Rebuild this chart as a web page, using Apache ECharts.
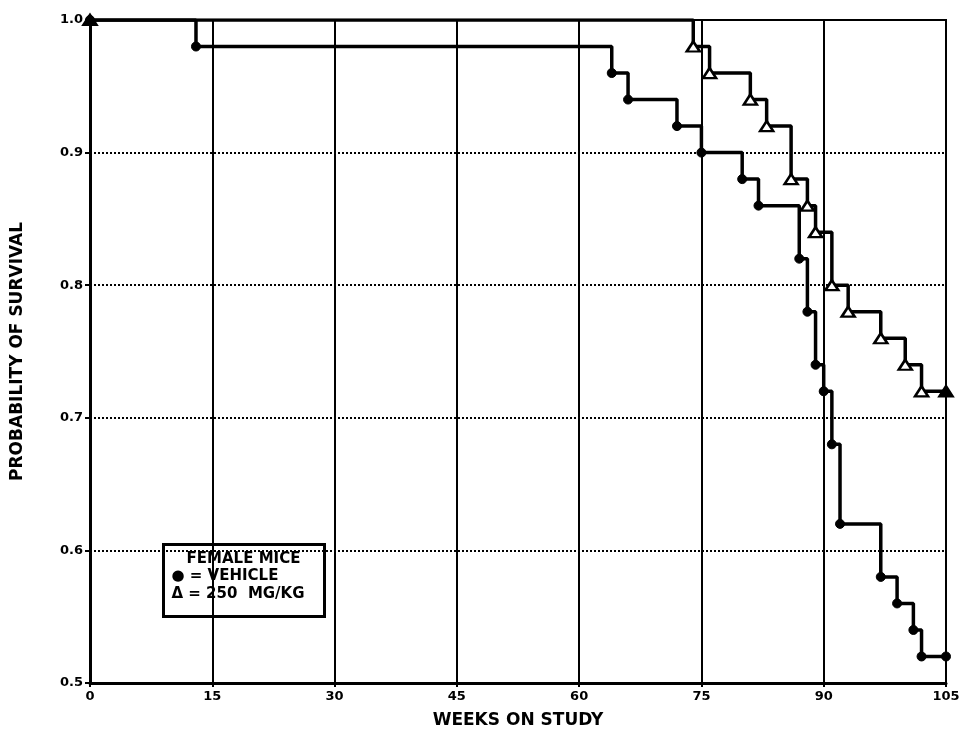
<!DOCTYPE html>
<html>
<head>
<meta charset="utf-8">
<script src="https://cdn.jsdelivr.net/npm/echarts@6/dist/echarts.min.js"></script>
<style>
  html, body { margin: 0; padding: 0; background: #fff; }
  #main { width: 964px; height: 738px; }
</style>
</head>
<body>
<div id="main"></div>
<script>
// Kaplan-Meier survival, female mice
var weekTicks = [0, 15, 30, 45, 60, 75, 90, 105];

var vehicleWeeks = [0, 13, 64, 66, 72, 75, 80, 82, 87, 88, 89, 90, 91, 92, 97, 99, 101, 102, 105];
var vehicleSurv  = [1.0, 0.98, 0.96, 0.94, 0.92, 0.90, 0.88, 0.86, 0.82, 0.78, 0.74, 0.72, 0.68, 0.62, 0.58, 0.56, 0.54, 0.52, 0.52];

var doseWeeks = [0, 74, 76, 81, 83, 86, 88, 89, 91, 93, 97, 100, 102, 105];
var doseSurv  = [1.0, 0.98, 0.96, 0.94, 0.92, 0.88, 0.86, 0.84, 0.80, 0.78, 0.76, 0.74, 0.72, 0.72];

var pairs = function (xs, ys) {
    return xs.map(function (x, i) { return [x, ys[i]]; });
};

// the first and last triangles print solid in the original
var doseData = pairs(doseWeeks, doseSurv).map(function (p, i, arr) {
    if (i === 0 || i === arr.length - 1) {
        return { value: p, itemStyle: { color: '#000' } };
    }
    return p;
});

var font = 'DejaVu Sans';

var myChart = echarts.init(document.getElementById('main'));
myChart.setOption({
    animation: false,
    backgroundColor: '#fff',
    grid: {
        left: 90, right: 18, top: 20, bottom: 55,
        show: true, borderColor: '#000', borderWidth: 2
    },
    xAxis: {
        type: 'value',
        min: 0, max: 105, interval: 15,
        name: 'WEEKS ON STUDY',
        nameLocation: 'middle',
        nameGap: 29,
        nameTextStyle: { fontFamily: font, fontWeight: 'bold', fontSize: 17, color: '#000' },
        axisLine: { lineStyle: { color: '#000', width: 3 } },
        axisTick: { show: true, length: 4, lineStyle: { color: '#000', width: 2 } },
        axisLabel: {
            fontFamily: font, fontWeight: 'bold', fontSize: 13, color: '#000', margin: 7,
            formatter: function (v) { return weekTicks.indexOf(v) >= 0 ? String(v) : ''; }
        },
        splitLine: { show: true, lineStyle: { color: '#000', width: 2, type: 'solid' } }
    },
    yAxis: {
        type: 'value',
        min: 0.5, max: 1.0, interval: 0.1,
        name: 'PROBABILITY OF SURVIVAL',
        nameLocation: 'middle',
        nameGap: 64,
        nameTextStyle: { fontFamily: font, fontWeight: 'bold', fontSize: 17, color: '#000' },
        axisLine: { show: true, lineStyle: { color: '#000', width: 3 } },
        axisTick: { show: true, length: 5, lineStyle: { color: '#000', width: 2 } },
        axisLabel: {
            fontFamily: font, fontWeight: 'bold', fontSize: 13, color: '#000', margin: 7,
            formatter: function (v) { return v.toFixed(1); }
        },
        splitLine: { show: true, lineStyle: { color: '#000', width: 2, type: [2, 2] } }
    },
    series: [
        {
            name: 'VEHICLE',
            type: 'line',
            step: 'end',
            data: pairs(vehicleWeeks, vehicleSurv),
            symbol: 'circle',
            symbolSize: 9,
            lineStyle: { color: '#000', width: 3.5 },
            itemStyle: { color: '#000', borderColor: '#000' },
            z: 3
        },
        {
            name: '250 MG/KG',
            type: 'line',
            step: 'end',
            data: doseData,
            symbol: 'triangle',
            symbolSize: [13, 10],
            lineStyle: { color: '#000', width: 3.5 },
            itemStyle: { color: '#fff', borderColor: '#000', borderWidth: 2.5 },
            z: 4
        }
    ],
    graphic: [
        {
            type: 'group',
            left: 162, top: 543,
            children: [
                {
                    type: 'rect',
                    shape: { x: 0, y: 0, width: 161, height: 72 },
                    style: { fill: '#fff', stroke: '#000', lineWidth: 3 }
                },
                {
                    type: 'text', x: 80, y: 7,
                    style: { text: 'FEMALE MICE', fill: '#000', font: 'bold 15px "DejaVu Sans"', align: 'center' }
                },
                {
                    type: 'text', x: 8, y: 24,
                    style: { text: '\u25CF = VEHICLE', fill: '#000', font: 'bold 15px "DejaVu Sans"' }
                },
                {
                    type: 'text', x: 8, y: 42,
                    style: { text: '\u0394 = 250  MG/KG', fill: '#000', font: 'bold 15px "DejaVu Sans"' }
                }
            ]
        }
    ]
});
</script>
</body>
</html>
